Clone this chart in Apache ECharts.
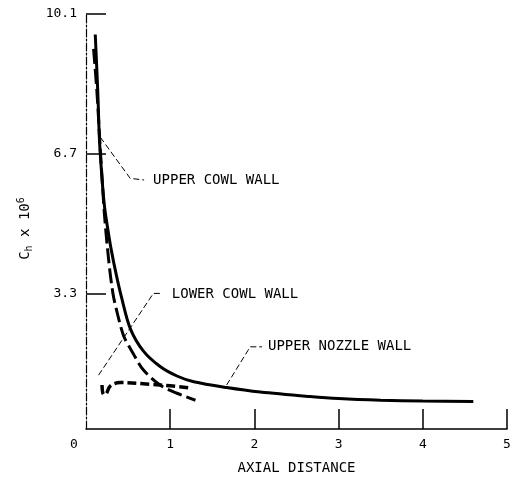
<!DOCTYPE html>
<html>
<head>
<meta charset="utf-8">
<script src="https://cdn.jsdelivr.net/npm/echarts@6/dist/echarts.min.js"></script>
<style>
  html, body { margin: 0; padding: 0; background: #fff; }
  #chart { width: 520px; height: 481px; }
</style>
</head>
<body>
<div id="chart"></div>
<script>
// Heat-transfer coefficient along the walls versus axial distance
const xTicks = [1, 2, 3, 4, 5];
const xLabels = [0, 1, 2, 3, 4, 5];
const yTicks = [3.3, 6.7, 10.1];

const upperNozzleWall = [
  [0.11, 9.6], [0.14, 8.2], [0.16, 7.03], [0.19, 6.1], [0.22, 5.41],
  [0.26, 4.85], [0.30, 4.36], [0.36, 3.75], [0.42, 3.22], [0.525, 2.45],
  [0.68, 1.9], [0.88, 1.52], [1.08, 1.29], [1.28, 1.15], [1.67, 1.01],
  [2.07, 0.90], [2.66, 0.79], [3.0, 0.74], [3.5, 0.70], [4.0, 0.68], [4.6, 0.67]
];
const upperCowlWall = [
  [0.09, 9.25], [0.13, 8.2], [0.17, 6.8], [0.22, 5.2], [0.27, 4.1],
  [0.32, 3.3], [0.38, 2.75], [0.45, 2.25], [0.56, 1.84], [0.68, 1.44],
  [0.88, 1.07], [1.08, 0.87], [1.30, 0.70]
];
const lowerCowlWall = [
  [0.19, 1.07], [0.21, 0.84], [0.24, 0.86], [0.29, 1.05], [0.41, 1.13],
  [0.76, 1.09], [1.0, 1.05], [1.24, 1.0]
];

// Leader lines from each annotation to its curve
const upperCowlLeader = [[0.17, 7.1], [0.525, 6.1], [0.69, 6.06]];
const lowerCowlLeader = [[0.149, 1.31], [0.80, 3.3], [0.90, 3.3]];
const upperNozzleLeader = [[1.67, 1.07], [1.95, 2.0], [2.09, 2.0]];

const FONT = 'DejaVu Sans Mono';
const INK = '#000';

function leader(name, pts, text, dist, dy) {
  return {
    name: name, type: 'line', data: pts,
    showSymbol: false, silent: true, z: 1,
    lineStyle: { color: INK, width: 1, type: [6, 3] },
    endLabel: { show: true, formatter: text, distance: dist, offset: [0, dy],
      color: INK, fontFamily: FONT, fontSize: 14 }
  };
}

const chart = echarts.init(document.getElementById('chart'), null, { renderer: 'canvas' });
chart.setOption({
  animation: false,
  backgroundColor: '#fff',
  grid: { left: 86, right: 13, top: 14, bottom: 52, containLabel: false },
  xAxis: {
    type: 'value', min: 0, max: 5, interval: 1,
    name: 'AXIAL DISTANCE', nameLocation: 'middle', nameGap: 32,
    nameTextStyle: { color: INK, fontFamily: FONT, fontSize: 14 },
    axisLine: { show: true, lineStyle: { color: INK, width: 1.5 } },
    axisTick: { show: true, inside: true, length: 20, customValues: xTicks,
      lineStyle: { color: INK, width: 1.5 } },
    axisLabel: {
      customValues: xLabels, margin: 9, color: INK, fontFamily: FONT, fontSize: 13,
      formatter: v => v === 0 ? '{z|0}' : String(v),
      rich: { z: { padding: [0, 24, 0, 0], fontFamily: FONT, fontSize: 13, color: INK } }
    },
    splitLine: { show: false }
  },
  yAxis: {
    type: 'value', min: 0, max: 10.1,
    name: 'C{sub|h} x 10{sup|6}', nameLocation: 'middle', nameGap: 46, nameRotate: 90,
    nameTextStyle: {
      color: INK, fontFamily: FONT, fontSize: 14, padding: [0, 14, 0, 0],
      rich: {
        sub: { fontFamily: FONT, fontSize: 10, color: INK, padding: [8, 0, 0, 0] },
        sup: { fontFamily: FONT, fontSize: 10, color: INK, padding: [0, 0, 8, 0] }
      }
    },
    axisLine: { show: true, lineStyle: { color: INK, width: 1.2, type: [8, 2, 2, 2] } },
    axisTick: { show: true, inside: true, length: 20, customValues: yTicks,
      lineStyle: { color: INK, width: 1.5 } },
    axisLabel: { customValues: yTicks, margin: 9, color: INK, fontFamily: FONT, fontSize: 13,
      formatter: v => v.toFixed(1) },
    splitLine: { show: false }
  },
  series: [
    { name: 'UPPER NOZZLE WALL', type: 'line', data: upperNozzleWall, smooth: 0.3,
      showSymbol: false, z: 3, lineStyle: { color: INK, width: 3 } },
    { name: 'UPPER COWL WALL', type: 'line', data: upperCowlWall, smooth: 0.3,
      showSymbol: false, z: 3, lineStyle: { color: INK, width: 3, type: [15, 5] } },
    { name: 'LOWER COWL WALL', type: 'line', data: lowerCowlWall, smooth: 0.4,
      showSymbol: false, z: 3, lineStyle: { color: INK, width: 3.5, type: [9, 4] } },
    leader('upper cowl leader', upperCowlLeader, 'UPPER COWL WALL', 9, 0),
    leader('lower cowl leader', lowerCowlLeader, 'LOWER COWL WALL', 10, 1),
    leader('upper nozzle leader', upperNozzleLeader, 'UPPER NOZZLE WALL', 6, 0)
  ]
});
</script>
</body>
</html>
